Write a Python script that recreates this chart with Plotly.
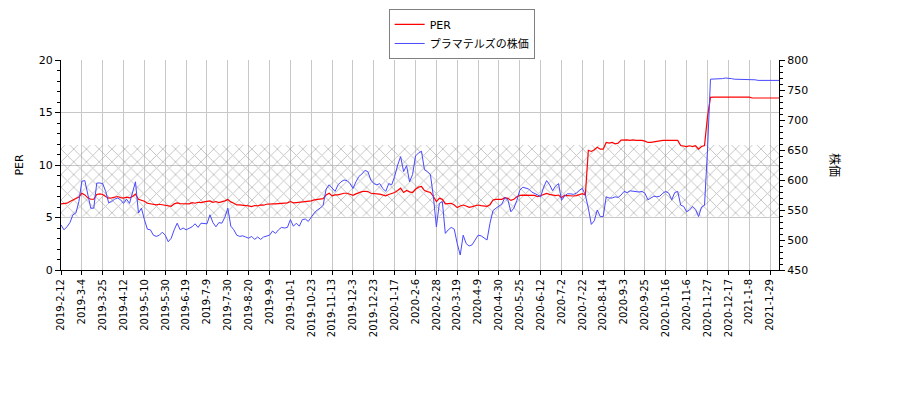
import plotly.graph_objects as go

# サンプル間隔: 2営業日ごと（x は標本番号）
tick_labels = [
    '2019-2-12', '2019-3-4', '2019-3-25', '2019-4-12', '2019-5-10', '2019-5-30',
    '2019-6-19', '2019-7-9', '2019-7-30', '2019-8-20', '2019-9-9', '2019-10-1',
    '2019-10-23', '2019-11-13', '2019-12-3', '2019-12-23', '2020-1-17', '2020-2-6',
    '2020-2-28', '2020-3-19', '2020-4-9', '2020-4-30', '2020-5-25', '2020-6-12',
    '2020-7-2', '2020-7-22', '2020-8-14', '2020-9-3', '2020-9-25', '2020-10-16',
    '2020-11-6', '2020-11-27', '2020-12-17', '2021-1-8', '2021-1-29',
]
tick_step = 7

per = [
    6.30, 6.30, 6.36, 6.52, 6.68, 6.80, 6.96, 7.31, 7.15, 6.87,
    6.74, 6.74, 7.19, 7.25, 7.19, 7.00, 6.84, 6.87, 6.93, 7.00,
    6.90, 6.84, 6.93, 6.87, 7.00, 7.22, 6.74, 6.65, 6.55, 6.36,
    6.30, 6.20, 6.20, 6.26, 6.20, 6.14, 6.07, 6.07, 6.30, 6.39,
    6.33, 6.33, 6.36, 6.30, 6.42, 6.36, 6.45, 6.42, 6.49, 6.52,
    6.58, 6.45, 6.52, 6.42, 6.49, 6.58, 6.71, 6.49, 6.36, 6.20,
    6.20, 6.14, 6.14, 6.10, 6.04, 6.14, 6.10, 6.20, 6.17, 6.26,
    6.30, 6.30, 6.30, 6.33, 6.36, 6.36, 6.39, 6.52, 6.39, 6.42,
    6.45, 6.52, 6.52, 6.52, 6.58, 6.68, 6.74, 6.74, 6.80, 7.15,
    7.31, 7.06, 7.15, 7.15, 7.25, 7.31, 7.31, 7.25, 7.12, 7.25,
    7.38, 7.47, 7.50, 7.47, 7.31, 7.25, 7.25, 7.22, 7.15, 7.06,
    7.19, 7.28, 7.38, 7.57, 7.79, 7.38, 7.57, 7.44, 7.38, 7.69,
    7.89, 7.95, 7.57, 7.47, 7.38, 7.00, 6.52, 6.83, 6.73, 6.30,
    6.35, 6.35, 6.19, 5.94, 6.10, 6.19, 6.10, 5.97, 6.03, 6.10,
    6.19, 6.13, 6.06, 6.06, 6.22, 6.67, 6.73, 6.76, 6.73, 6.89,
    6.83, 6.63, 6.73, 6.98, 7.11, 7.14, 7.14, 7.14, 7.14, 7.11,
    6.98, 7.11, 7.24, 7.30, 7.21, 7.11, 7.08, 7.14, 6.89, 7.11,
    7.08, 7.05, 7.05, 7.08, 7.14, 7.27, 7.14, 11.40, 11.29, 11.45,
    11.70, 11.51, 11.51, 12.15, 12.08, 12.15, 12.02, 12.08, 12.37, 12.40,
    12.40, 12.34, 12.40, 12.34, 12.37, 12.34, 12.27, 12.15, 12.15, 12.21,
    12.24, 12.27, 12.34, 12.34, 12.34, 12.31, 12.34, 12.34, 11.86, 11.83,
    11.76, 11.83, 11.76, 11.83, 11.51, 11.76, 11.86, 14.60, 16.44, 16.47,
    16.47, 16.47, 16.47, 16.47, 16.47, 16.47, 16.47, 16.47, 16.47, 16.47,
    16.47, 16.47, 16.38, 16.38, 16.38, 16.38, 16.38, 16.38, 16.38, 16.38,
    16.38, 16.38,
]

price = [
    525, 517, 522, 529, 542, 545, 564, 598, 599, 575,
    553, 553, 595, 595, 594, 581, 562, 564, 568, 570,
    567, 561, 568, 561, 578, 597, 545, 553, 534, 518,
    517, 508, 506, 508, 513, 508, 497, 503, 517, 528,
    517, 520, 517, 520, 522, 527, 521, 528, 527, 527,
    542, 529, 522, 529, 528, 538, 553, 523, 517, 508,
    506, 507, 505, 503, 506, 501, 505, 501, 505, 507,
    508, 515, 511, 517, 521, 520, 521, 534, 523, 528,
    523, 534, 535, 531, 539, 545, 550, 553, 558, 585,
    592, 586, 581, 592, 597, 600, 599, 594, 586, 597,
    606, 610, 616, 614, 600, 594, 592, 594, 586, 581,
    594, 592, 606, 625, 639, 614, 624, 597, 609, 640,
    645, 648, 617, 614, 609, 572, 522, 561, 564, 511,
    517, 521, 518, 494, 475, 508, 494, 490, 492, 500,
    508, 507, 504, 500, 528, 549, 553, 556, 560, 571,
    567, 547, 553, 566, 583, 588, 587, 585, 580, 578,
    575, 572, 588, 599, 592, 582, 590, 594, 566, 573,
    577, 577, 576, 578, 583, 586, 575, 553, 526, 532,
    550, 539, 539, 572, 570, 570, 572, 571, 575, 581,
    579, 582, 581, 581, 580, 581, 578, 567, 570, 573,
    572, 573, 578, 581, 578, 567, 579, 581, 558, 556,
    547, 550, 556, 551, 539, 555, 558, 650, 768, 768,
    769, 769, 769, 770, 770, 769, 768, 768, 768, 768,
    768, 767, 767, 767, 766, 766, 767, 766, 766, 766,
    766, 766,
]

# ハッチングの帯（PER）
band_low = 5.1
band_high = 11.9

idx = list(range(len(per)))
last = idx[-1]
tickvals = [i * tick_step for i in range(len(tick_labels))]

fig = go.Figure()

fig.add_trace(go.Scatter(
    x=[0, last, last, 0, 0],
    y=[band_low, band_low, band_high, band_high, band_low],
    mode='lines', fill='toself', line=dict(width=0),
    fillcolor='rgba(0,0,0,0)',
    fillpattern=dict(shape='x', fgcolor='#888888', bgcolor='rgba(0,0,0,0)',
                     size=9, solidity=0.2),
    hoverinfo='skip', showlegend=False,
))

fig.add_trace(go.Scatter(
    x=idx, y=per, mode='lines', name='PER',
    line=dict(color='#ff0000', width=1.2),
))

fig.add_trace(go.Scatter(
    x=idx, y=price, mode='lines', name='プラマテルズの株価',
    line=dict(color='#4848ff', width=1), yaxis='y2',
))

font = 'DejaVu Sans, Noto Sans CJK JP, sans-serif'

# ページ本体の 8px 余白を見込んだ余白
fig.update_layout(
    width=900, height=400,
    margin=dict(l=53, r=129, t=52, b=138, autoexpand=False),
    paper_bgcolor='white', plot_bgcolor='white',
    font=dict(family=font, size=11, color='black'),
    xaxis=dict(
        range=[0, last], tickvals=tickvals, ticktext=tick_labels,
        tickangle=-90, tickfont=dict(size=10),
        showgrid=True, gridcolor='#c8c8c8', gridwidth=1,
        ticks='outside', ticklen=4, tickcolor='black',
        showline=True, linecolor='black', linewidth=1, zeroline=False,
    ),
    yaxis=dict(
        range=[0, 20], dtick=5, tickfont=dict(size=11),
        showgrid=True, gridcolor='#c8c8c8', gridwidth=1,
        ticks='outside', ticklen=5, tickcolor='black',
        minor=dict(dtick=1, ticks='outside', ticklen=3, tickcolor='black', showgrid=False),
        showline=True, linecolor='black', linewidth=1, zeroline=False,
        title=dict(text='PER', font=dict(size=11), standoff=12),
    ),
    yaxis2=dict(
        range=[450, 800], dtick=50, overlaying='y', side='right',
        tickfont=dict(size=11), showgrid=False,
        ticks='outside', ticklen=5, tickcolor='black',
        minor=dict(dtick=10, ticks='outside', ticklen=3, tickcolor='black', showgrid=False),
        showline=True, linecolor='black', linewidth=1, zeroline=False,
    ),
    legend=dict(
        x=0.558, y=1.243, xanchor='center', yanchor='top',
        bgcolor='white', bordercolor='#808080', borderwidth=1,
        font=dict(size=11), tracegroupgap=2,
    ),
    annotations=[dict(
        text='株価', textangle=90, xref='paper', yref='paper',
        x=1.078, y=0.5, xanchor='center', yanchor='middle',
        showarrow=False, font=dict(size=12),
    )],
)

fig.write_html('out.html')
